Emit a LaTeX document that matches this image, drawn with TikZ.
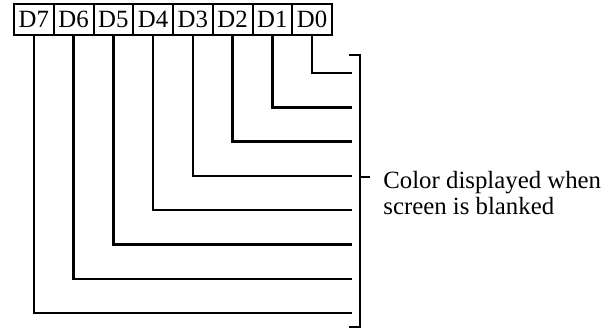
\documentclass[tikz,border=0pt]{standalone}
\usepackage{fontspec}
\setmainfont{Liberation Serif}
\begin{document}
\begin{tikzpicture}[x=0.5pt, y=-0.5pt,
    bitbox/.style={draw, line width=1pt, minimum width=19.875pt, minimum height=15.5pt,
      inner sep=0pt, font=\fontsize{12.4}{13}\selectfont},
    wire/.style={line width=1.25pt}]
  \useasboundingbox (0,0) rectangle (613,331);

  % register bits, D7 on the left
  \foreach \b [count=\i from 0] in {7,...,0} {
    \node[bitbox] (d\b) at ({14+39.75*(\i+0.5)}, 19.5) {D\b};
  }

  % one wire per bit, nested L shapes
  \foreach \b in {0,...,7} {
    \coordinate (e\b) at (352, {73+34.3*\b});
    \draw[wire] (d\b.south) |- (e\b);
  }

  % bracket on the right
  \coordinate (btop) at (360,55);
  \coordinate (bbot) at (360,327);
  \coordinate (bmid) at (360,177);
  \draw[wire] (349,55) -- (btop) -- (bbot) -- (349,327);
  \draw[wire] (bmid) -- ++(10,0);

  \node[anchor=north west, inner sep=0pt, align=left, font=\fontsize{12.4}{13}\selectfont]
    (note) at (383,171) {Color displayed when\\screen is blanked};
\end{tikzpicture}
\end{document}
